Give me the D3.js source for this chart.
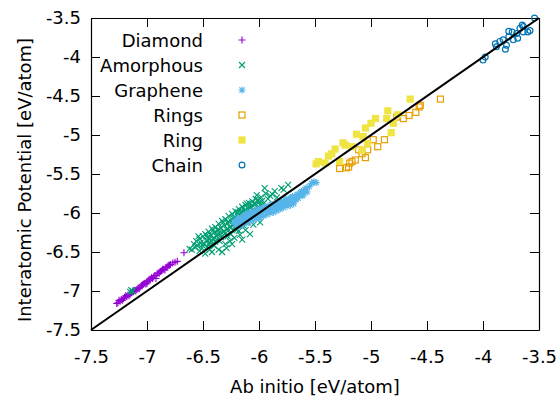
<!DOCTYPE html>
<html>
<head>
<meta charset="utf-8">
<script src="https://cdn.jsdelivr.net/npm/d3@7"></script>
<style>
body { margin: 0; background: #fff; }
</style>
</head>
<body>
<div id="canvas"></div>
<script>
"use strict"

/* Drawing configuration */
let svgWidth = 560;
let svgHeight = 399;

let marginLeft = 91;
let marginRight = 21;
let marginTop = 18;
let marginBottom = 69;

let fontFamily = "DejaVu Sans, Verdana, sans-serif";
let fontSize = "18px";

/* Data: [ab initio, interatomic potential] in eV/atom */
let diamond = [
    [-7.27,-7.16],[-7.26,-7.15],[-7.24,-7.13],[-7.23,-7.11],[-7.21,-7.10],[-7.20,-7.08],
    [-7.18,-7.07],[-7.17,-7.05],[-7.15,-7.04],[-7.14,-7.02],[-7.12,-7.01],[-7.11,-6.99],
    [-7.10,-7.00],[-7.09,-6.98],[-7.08,-6.96],[-7.06,-6.95],[-7.05,-6.93],[-7.03,-6.91],
    [-7.02,-6.90],[-7.00,-6.88],[-7.00,-6.90],[-6.99,-6.87],[-6.97,-6.85],[-6.96,-6.83],
    [-6.94,-6.82],[-6.93,-6.80],[-6.92,-6.84],[-6.91,-6.78],[-6.90,-6.77],[-6.88,-6.75],
    [-6.87,-6.74],[-6.85,-6.72],[-6.83,-6.70],[-6.82,-6.69],[-6.80,-6.67],[-6.79,-6.66],
    [-6.73,-6.62],[-6.67,-6.51],
    [-7.25,-7.12],[-7.22,-7.12],[-7.19,-7.06],[-7.16,-7.06],[-7.13,-7.00],[-7.07,-6.97],
    [-7.04,-6.92],[-7.01,-6.91],[-6.98,-6.85],[-6.95,-6.84],[-6.89,-6.77],[-6.86,-6.72],
    [-6.84,-6.73],[-6.81,-6.67],[-6.77,-6.64],[-6.75,-6.63]
];

let amorphous = [
    [-7.15,-7.01],[-7.13,-7.00],[-7.14,-6.99],
    [-6.58,-6.40],[-6.56,-6.36],[-6.55,-6.42],[-6.53,-6.33],[-6.52,-6.38],[-6.50,-6.30],
    [-6.49,-6.40],[-6.48,-6.27],[-6.47,-6.35],[-6.46,-6.31],[-6.45,-6.24],[-6.44,-6.38],
    [-6.43,-6.28],[-6.42,-6.20],[-6.41,-6.33],[-6.40,-6.25],[-6.39,-6.18],[-6.38,-6.30],
    [-6.37,-6.22],[-6.36,-6.14],[-6.35,-6.27],[-6.34,-6.19],[-6.33,-6.10],[-6.32,-6.24],
    [-6.31,-6.16],[-6.30,-6.08],[-6.29,-6.21],[-6.28,-6.13],[-6.27,-6.04],[-6.26,-6.18],
    [-6.25,-6.10],[-6.24,-6.01],[-6.23,-6.15],[-6.22,-6.06],[-6.21,-5.98],[-6.20,-6.12],
    [-6.19,-6.03],[-6.18,-5.95],[-6.17,-6.09],[-6.16,-6.00],[-6.15,-5.92],[-6.14,-6.06],
    [-6.13,-5.97],[-6.12,-5.90],[-6.11,-6.03],[-6.10,-5.94],[-6.09,-5.87],[-6.08,-6.00],
    [-6.07,-5.92],[-6.06,-5.85],[-6.05,-5.97],[-6.04,-5.89],[-6.03,-5.82],[-6.02,-5.77],
    [-6.00,-5.86],[-5.98,-5.80],[-5.95,-5.68],[-5.94,-5.75],[-5.90,-5.78],[-5.86,-5.72],
    [-5.80,-5.68],[-5.74,-5.64],
    [-6.48,-6.52],[-6.42,-6.50],[-6.36,-6.47],[-6.33,-6.50],[-6.30,-6.40],[-6.26,-6.36],
    [-6.22,-6.32],[-6.17,-6.28],[-6.12,-6.22],[-6.05,-6.15],[-5.99,-6.12],[-6.40,-6.42],
    [-6.35,-6.36],[-6.28,-6.30],[-6.20,-6.22],[-6.10,-6.12],[-6.45,-6.40],[-6.38,-6.34],
    [-6.51,-6.45],[-6.44,-6.33],[-6.37,-6.27],[-6.31,-6.24],[-6.25,-6.19],[-6.19,-6.12],
    [-6.13,-6.05],[-6.07,-5.99],[-6.01,-5.93],[-5.96,-5.88],
    [-6.57,-6.44],[-6.54,-6.30],[-6.51,-6.41],[-6.47,-6.29],[-6.46,-6.43],[-6.43,-6.36],
    [-6.41,-6.22],[-6.39,-6.37],[-6.36,-6.21],[-6.34,-6.31],[-6.32,-6.12],[-6.30,-6.26],
    [-6.28,-6.20],[-6.27,-6.11],[-6.25,-6.27],[-6.23,-6.07],[-6.21,-6.17],[-6.19,-5.99],
    [-6.18,-6.23],[-6.16,-6.05],[-6.15,-5.97],[-6.14,-6.16],[-6.12,-5.96],[-6.11,-5.88],
    [-6.09,-6.05],[-6.08,-5.93],[-6.06,-5.90],[-6.05,-6.05],[-6.03,-5.88],[-6.01,-5.83],
    [-5.99,-5.90],[-5.97,-5.84],[-5.92,-5.82],[-5.88,-5.76],[-5.84,-5.80],[-5.78,-5.70],
    [-6.29,-6.45],[-6.24,-6.40],[-6.15,-6.34],[-6.08,-6.27],[-6.44,-6.47],[-6.53,-6.49],
    [-6.60,-6.47],[-6.62,-6.46]
];

let graphene = [
    [-6.22,-6.12],[-6.20,-6.10],[-6.19,-6.18],[-6.18,-6.08],[-6.17,-6.14],[-6.16,-6.06],
    [-6.15,-6.16],[-6.14,-6.04],[-6.13,-6.10],[-6.12,-6.02],[-6.11,-6.13],[-6.10,-6.00],
    [-6.09,-6.06],[-6.08,-6.10],[-6.07,-5.99],[-6.06,-6.05],[-6.05,-6.09],[-6.04,-5.97],
    [-6.03,-6.02],[-6.02,-6.07],[-6.01,-5.95],[-6.00,-6.02],[-5.99,-6.06],[-5.98,-5.94],
    [-5.97,-5.99],[-5.96,-6.04],[-5.95,-5.93],[-5.94,-5.98],[-5.93,-6.02],[-5.92,-5.91],
    [-5.91,-5.96],[-5.90,-6.00],[-5.89,-5.89],[-5.88,-5.95],[-5.87,-5.99],[-5.86,-5.88],
    [-5.85,-5.93],[-5.84,-5.97],[-5.83,-5.86],[-5.82,-5.91],[-5.81,-5.95],[-5.80,-5.85],
    [-5.79,-5.89],[-5.78,-5.93],[-5.77,-5.83],[-5.76,-5.88],[-5.75,-5.91],[-5.74,-5.82],
    [-5.73,-5.86],[-5.72,-5.90],[-5.71,-5.80],[-5.70,-5.85],[-5.69,-5.88],[-5.68,-5.79],
    [-5.67,-5.83],[-5.66,-5.76],[-5.65,-5.81],[-5.63,-5.74],[-5.61,-5.78],[-5.59,-5.70],
    [-5.57,-5.73],[-5.53,-5.62],[-5.51,-5.60],[-5.49,-5.61],
    [-6.21,-6.14],[-6.19,-6.06],[-6.16,-6.12],[-6.14,-6.09],[-6.12,-6.07],[-6.10,-6.06],
    [-6.08,-6.03],[-6.06,-6.01],[-6.04,-6.03],[-6.02,-5.99],[-6.00,-5.97],[-5.98,-5.99],
    [-5.96,-5.97],[-5.94,-5.94],[-5.92,-5.96],[-5.90,-5.93],[-5.88,-5.90],[-5.86,-5.92],
    [-5.84,-5.89],[-5.82,-5.87],[-5.80,-5.89],[-5.78,-5.86],[-5.76,-5.83],[-5.74,-5.85],
    [-5.72,-5.82],[-5.70,-5.79],[-5.68,-5.82],[-5.66,-5.79],[-5.64,-5.77],[-5.62,-5.72],
    [-5.60,-5.75],[-5.58,-5.68],[-5.55,-5.66]
];

let rings = [
    [-4.38,-4.54],[-4.56,-4.62],[-4.57,-4.64],[-4.60,-4.71],[-4.66,-4.75],[-4.71,-4.79],
    [-4.77,-4.77],[-4.88,-5.06],[-4.94,-5.15],[-4.98,-5.06],[-5.03,-5.19],[-5.05,-5.29],
    [-5.08,-5.24],[-5.11,-5.19],[-5.14,-5.32],[-5.17,-5.34],[-5.19,-5.36],[-5.20,-5.41],
    [-5.22,-5.42],[-5.28,-5.43]
];

let ring = [
    [-4.65,-4.54],[-4.85,-4.69],[-4.76,-4.74],[-4.86,-4.79],[-4.80,-4.85],[-4.82,-4.97],
    [-4.96,-4.79],[-5.00,-4.85],[-5.05,-4.91],[-5.13,-4.99],[-5.07,-5.02],[-5.03,-5.11],
    [-5.08,-5.19],[-5.25,-5.10],[-5.23,-5.13],[-5.32,-5.18],[-5.35,-5.24],[-5.38,-5.27],
    [-5.47,-5.34],[-5.41,-5.36],[-5.28,-5.34],[-5.17,-5.15],[-5.49,-5.37]
];

let chain = [
    [-3.54,-3.50],[-3.65,-3.59],[-3.67,-3.63],[-3.64,-3.61],[-3.70,-3.70],[-3.74,-3.68],
    [-3.77,-3.74],[-3.73,-3.78],[-3.77,-3.67],[-3.82,-3.78],[-3.85,-3.80],[-3.89,-3.83],
    [-3.88,-3.87],[-3.79,-3.85],[-3.69,-3.76],[-3.60,-3.68],[-3.58,-3.66],[-4.00,-4.04],
    [-3.98,-4.00],[-3.80,-3.90],[-3.64,-3.68]
];

let seriesNames = ["Diamond", "Amorphous", "Graphene", "Rings", "Ring", "Chain"];
let seriesData = [diamond, amorphous, graphene, rings, ring, chain];
let seriesColors = ["#9400d3", "#009e73", "#56b4e9", "#e69f00", "#f0e442", "#0072b2"];
let seriesShapes = ["plus", "cross", "star", "square", "filledSquare", "circle"];

let tickValues = [-7.5, -7, -6.5, -6, -5.5, -5, -4.5, -4, -3.5];

/* Canvas */
let svg = d3.select("#canvas")
    .append("svg")
    .attr("width", svgWidth)
    .attr("height", svgHeight)
    .style("font-family", fontFamily);

let xScale = d3.scaleLinear()
    .domain([-7.5, -3.5])
    .range([marginLeft, svgWidth - marginRight]);

let yScale = d3.scaleLinear()
    .domain([-7.5, -3.5])
    .range([svgHeight - marginBottom, marginTop]);

/* Axes: gnuplot-style inward ticks on all four sides */
function styleAxis(g) {
    g.selectAll(".domain").attr("stroke", "black").attr("stroke-width", 1.2);
    g.selectAll(".tick line").attr("stroke", "black").attr("stroke-width", 1);
    g.selectAll("text")
        .attr("fill", "black")
        .style("font-size", fontSize)
        .style("font-family", fontFamily);
}

svg.append("g")
    .attr("transform", "translate(0," + yScale(-7.5) + ")")
    .call(d3.axisBottom(xScale).tickValues(tickValues).tickSizeInner(-9).tickSizeOuter(0)
        .tickPadding(20).tickFormat(function(d) { return String(d); }))
    .call(styleAxis);

svg.append("g")
    .attr("transform", "translate(0," + yScale(-3.5) + ")")
    .call(d3.axisTop(xScale).tickValues(tickValues).tickSizeInner(-9).tickSizeOuter(0)
        .tickFormat(""))
    .call(styleAxis);

svg.append("g")
    .attr("transform", "translate(" + xScale(-7.5) + ",0)")
    .call(d3.axisLeft(yScale).tickValues(tickValues).tickSizeInner(-9).tickSizeOuter(0)
        .tickPadding(10).tickFormat(function(d) { return String(d); }))
    .call(styleAxis);

svg.append("g")
    .attr("transform", "translate(" + xScale(-3.5) + ",0)")
    .call(d3.axisRight(yScale).tickValues(tickValues).tickSizeInner(-9).tickSizeOuter(0)
        .tickFormat(""))
    .call(styleAxis);

/* Point symbols */
function drawSymbol(g, shape, color, cx, cy) {
    if (shape === "plus") {
        g.append("path")
            .attr("d", "M" + (cx - 3.5) + "," + cy + "H" + (cx + 3.5) + "M" + cx + "," + (cy - 3.5) + "V" + (cy + 3.5))
            .attr("stroke", color).attr("stroke-width", 1.1).attr("fill", "none");
    } else if (shape === "cross") {
        g.append("path")
            .attr("d", "M" + (cx - 3) + "," + (cy - 3) + "L" + (cx + 3) + "," + (cy + 3) +
                "M" + (cx - 3) + "," + (cy + 3) + "L" + (cx + 3) + "," + (cy - 3))
            .attr("stroke", color).attr("stroke-width", 1.1).attr("fill", "none");
    } else if (shape === "star") {
        g.append("path")
            .attr("d", "M" + (cx - 3.5) + "," + cy + "H" + (cx + 3.5) + "M" + cx + "," + (cy - 3.5) + "V" + (cy + 3.5) +
                "M" + (cx - 2.6) + "," + (cy - 2.6) + "L" + (cx + 2.6) + "," + (cy + 2.6) +
                "M" + (cx - 2.6) + "," + (cy + 2.6) + "L" + (cx + 2.6) + "," + (cy - 2.6))
            .attr("stroke", color).attr("stroke-width", 1.1).attr("fill", "none");
    } else if (shape === "square") {
        g.append("rect")
            .attr("x", cx - 3).attr("y", cy - 3).attr("width", 6).attr("height", 6)
            .attr("stroke", color).attr("stroke-width", 1.2).attr("fill", "none");
    } else if (shape === "filledSquare") {
        g.append("rect")
            .attr("x", cx - 3.6).attr("y", cy - 3.6).attr("width", 7.2).attr("height", 7.2)
            .attr("fill", color);
    } else {
        g.append("circle")
            .attr("cx", cx).attr("cy", cy).attr("r", 2.9)
            .attr("stroke", color).attr("stroke-width", 1.2).attr("fill", "none");
    }
}

let pointsLayer = svg.append("g");
for (let s = 0; s < seriesData.length; s++) {
    let g = pointsLayer.append("g");
    for (let i = 0; i < seriesData[s].length; i++) {
        let d = seriesData[s][i];
        drawSymbol(g, seriesShapes[s], seriesColors[s], xScale(d[0]), yScale(d[1]));
    }
}

/* y = x reference line */
svg.append("line")
    .attr("x1", xScale(-7.5))
    .attr("y1", yScale(-7.5))
    .attr("x2", xScale(-3.5))
    .attr("y2", yScale(-3.5))
    .attr("stroke", "black")
    .attr("stroke-width", 2);

/* Legend */
let legendTextX = 203;
let legendSymbolX = 242;
let legendY = 40;
for (let s = 0; s < seriesNames.length; s++) {
    let yPosition = legendY + s * 25;
    svg.append("text")
        .attr("x", legendTextX)
        .attr("y", yPosition)
        .attr("text-anchor", "end")
        .attr("dominant-baseline", "central")
        .style("font-size", fontSize)
        .text(seriesNames[s]);
    drawSymbol(svg.append("g"), seriesShapes[s], seriesColors[s], legendSymbolX, yPosition);
}

/* Axis labels */
svg.append("text")
    .attr("x", (xScale(-7.5) + xScale(-3.5)) / 2)
    .attr("y", 393)
    .attr("text-anchor", "middle")
    .style("font-size", fontSize)
    .text("Ab initio [eV/atom]");

svg.append("text")
    .attr("transform", "rotate(-90)")
    .attr("x", -180)
    .attr("y", 24)
    .attr("text-anchor", "middle")
    .attr("dominant-baseline", "central")
    .style("font-size", fontSize)
    .text("Interatomic Potential [eV/atom]");
</script>
</body>
</html>
